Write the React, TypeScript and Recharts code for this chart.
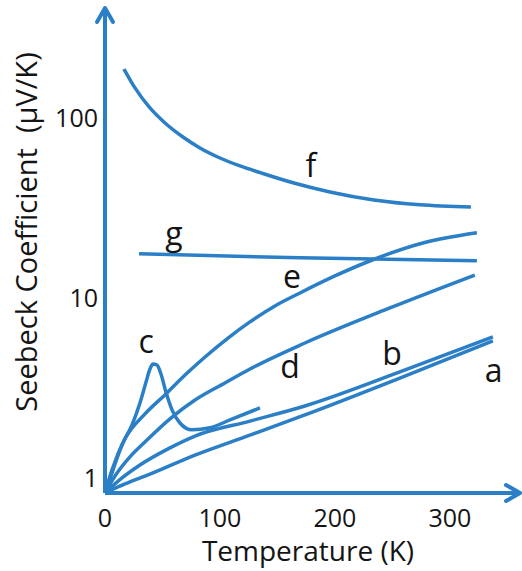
import React from 'react';
import {
    LineChart,
    Line,
    XAxis,
    YAxis,
    ReferenceDot,
} from 'recharts';

// curve points: t in K, s in µV/K
const curveA = [
    { t: 0, s: 0.825 }, { t: 17.4, s: 0.926 }, { t: 39.1, s: 1.05 }, { t: 78.3, s: 1.34 },
    { t: 126.1, s: 1.73 }, { t: 173.9, s: 2.24 }, { t: 256.5, s: 3.59 }, { t: 337.4, s: 5.77 },
];
const curveB = [
    { t: 0, s: 0.825 }, { t: 14.8, s: 1.0 }, { t: 30.4, s: 1.18 }, { t: 56.5, s: 1.47 },
    { t: 78.3, s: 1.71 }, { t: 126.1, s: 2.07 }, { t: 173.9, s: 2.51 }, { t: 256.5, s: 3.88 },
    { t: 337.4, s: 6.07 },
];
const curveC = [
    { t: 0, s: 0.825 }, { t: 7, s: 1.11 }, { t: 14.8, s: 1.53 }, { t: 23.5, s: 1.97 },
    { t: 30.4, s: 2.61 }, { t: 35.7, s: 3.41 }, { t: 39.1, s: 4.03 }, { t: 41.7, s: 4.3 },
    { t: 45.2, s: 4.24 }, { t: 48.7, s: 3.78 }, { t: 53, s: 3.0 }, { t: 58.3, s: 2.39 },
    { t: 65.2, s: 2.02 }, { t: 75.7, s: 1.85 }, { t: 91.3, s: 1.9 }, { t: 108.7, s: 2.1 },
    { t: 134.8, s: 2.45 },
];
const curveD = [
    { t: 0, s: 0.825 }, { t: 8.7, s: 1.026 }, { t: 21.7, s: 1.31 }, { t: 34.8, s: 1.585 },
    { t: 56.5, s: 2.13 }, { t: 78.3, s: 2.71 }, { t: 104.3, s: 3.37 }, { t: 126.1, s: 4.03 },
    { t: 173.9, s: 5.62 }, { t: 247.8, s: 8.8 }, { t: 321.7, s: 13.4 },
];
const curveE = [
    { t: 0, s: 0.825 }, { t: 6.1, s: 1.11 }, { t: 17.4, s: 1.65 }, { t: 34.8, s: 2.27 },
    { t: 53, s: 2.93 }, { t: 69.6, s: 3.73 }, { t: 87, s: 4.7 }, { t: 107, s: 5.99 },
    { t: 126.1, s: 7.36 }, { t: 147.8, s: 9.03 }, { t: 169.6, s: 10.66 }, { t: 200, s: 13.25 },
    { t: 233, s: 16.3 }, { t: 276.5, s: 20.2 }, { t: 323.5, s: 23.0 },
];
const curveF = [
    { t: 16.5, s: 187 }, { t: 26.1, s: 146.8 }, { t: 39.1, s: 113.6 }, { t: 52.2, s: 93.8 },
    { t: 67.8, s: 78.4 }, { t: 82.6, s: 68.1 }, { t: 100, s: 59.9 }, { t: 117.4, s: 54.1 },
    { t: 135.7, s: 49.5 }, { t: 164.3, s: 43.5 }, { t: 195.7, s: 38.8 }, { t: 233.9, s: 35.0 },
    { t: 273.9, s: 32.9 }, { t: 318.3, s: 32.0 },
];
const curveG = [
    { t: 29.6, s: 17.6 }, { t: 169.6, s: 16.7 }, { t: 323.5, s: 16.1 },
];

const curves = [curveA, curveB, curveC, curveD, curveE, curveF, curveG];

// letter tags, placed in data units (centre / baseline)
const curveTags = [
    { name: 'a', t: 338, s: 3.41 },
    { name: 'b', t: 249.6, s: 4.24 },
    { name: 'c', t: 35.7, s: 4.95 },
    { name: 'd', t: 160.9, s: 3.59 },
    { name: 'e', t: 162.6, s: 11.4 },
    { name: 'f', t: 179.1, s: 47.0 },
    { name: 'g', t: 60, s: 19.7 },
];

const xTicks = [0, 100, 200, 300];
const yTicks = [1, 10, 100];

const BLUE = '#2b7fc6';
const INK = '#141414';

const TagLabel = (props: any) => {
    const { viewBox, value } = props;
    if (!viewBox) return null;
    const x = viewBox.x + (viewBox.width || 0) / 2;
    const y = viewBox.y + (viewBox.height || 0) / 2;
    return (
        <text x={x} y={y} textAnchor="middle" fontSize={32} fill={INK}>
            {value}
        </text>
    );
};

const XTitle = () => (
    <text x={308} y={561} textAnchor="middle" fontSize={28} fill={INK}>
        Temperature (K)
    </text>
);

const YTitle = () => (
    <text
        x={37}
        y={232}
        textAnchor="middle"
        fontSize={29}
        fill={INK}
        transform="rotate(-90 37 232)"
        style={{ whiteSpace: 'pre' }}
    >
        {'Seebeck Coefficient  (µV/K)'}
    </text>
);

export default function App() {
    return (
        <div style={{ position: 'absolute', left: 0, top: 0, width: 522, height: 571, background: '#fff', fontFamily: '"Open Sans", sans-serif' }}>
            <LineChart
                width={522}
                height={571}
                margin={{ top: 8, right: 2, left: 45, bottom: 28 }}
            >
                <defs>
                    <marker
                        id="axisArrow"
                        markerUnits="userSpaceOnUse"
                        markerWidth={24}
                        markerHeight={24}
                        viewBox="-18 -12 24 24"
                        refX={0}
                        refY={0}
                        orient="auto-start-reverse"
                        overflow="visible"
                    >
                        <path
                            d="M -14 -8 L 0 0 L -14 8"
                            fill="none"
                            stroke={BLUE}
                            strokeWidth={4}
                            strokeLinecap="round"
                            strokeLinejoin="round"
                        />
                    </marker>
                </defs>

                <XAxis
                    dataKey="t"
                    type="number"
                    domain={[0, 361]}
                    allowDataOverflow
                    ticks={xTicks}
                    tickLine={false}
                    tickSize={0}
                    tickMargin={16}
                    height={50}
                    axisLine={{ stroke: BLUE, strokeWidth: 4, markerEnd: 'url(#axisArrow)' }}
                    tick={{ fill: INK, fontSize: 25 }}
                    label={{ content: <XTitle /> }}
                />
                <YAxis
                    type="number"
                    scale="log"
                    domain={[0.825, 408]}
                    allowDataOverflow
                    ticks={yTicks}
                    tickLine={false}
                    tickSize={0}
                    tickMargin={7}
                    width={60}
                    axisLine={{ stroke: BLUE, strokeWidth: 4, markerStart: 'url(#axisArrow)' }}
                    tick={{ fill: INK, fontSize: 25 }}
                    label={{ content: <YTitle /> }}
                />

                {curves.map((pts, i) => (
                    <Line
                        key={i}
                        data={pts}
                        dataKey="s"
                        type="monotone"
                        stroke={BLUE}
                        strokeWidth={3.5}
                        dot={false}
                        activeDot={false}
                        isAnimationActive={false}
                    />
                ))}

                {curveTags.map((tag) => (
                    <ReferenceDot
                        key={tag.name}
                        x={tag.t}
                        y={tag.s}
                        r={0}
                        fill="none"
                        stroke="none"
                        label={{ value: tag.name, content: <TagLabel /> }}
                    />
                ))}
            </LineChart>
        </div>
    );
}
